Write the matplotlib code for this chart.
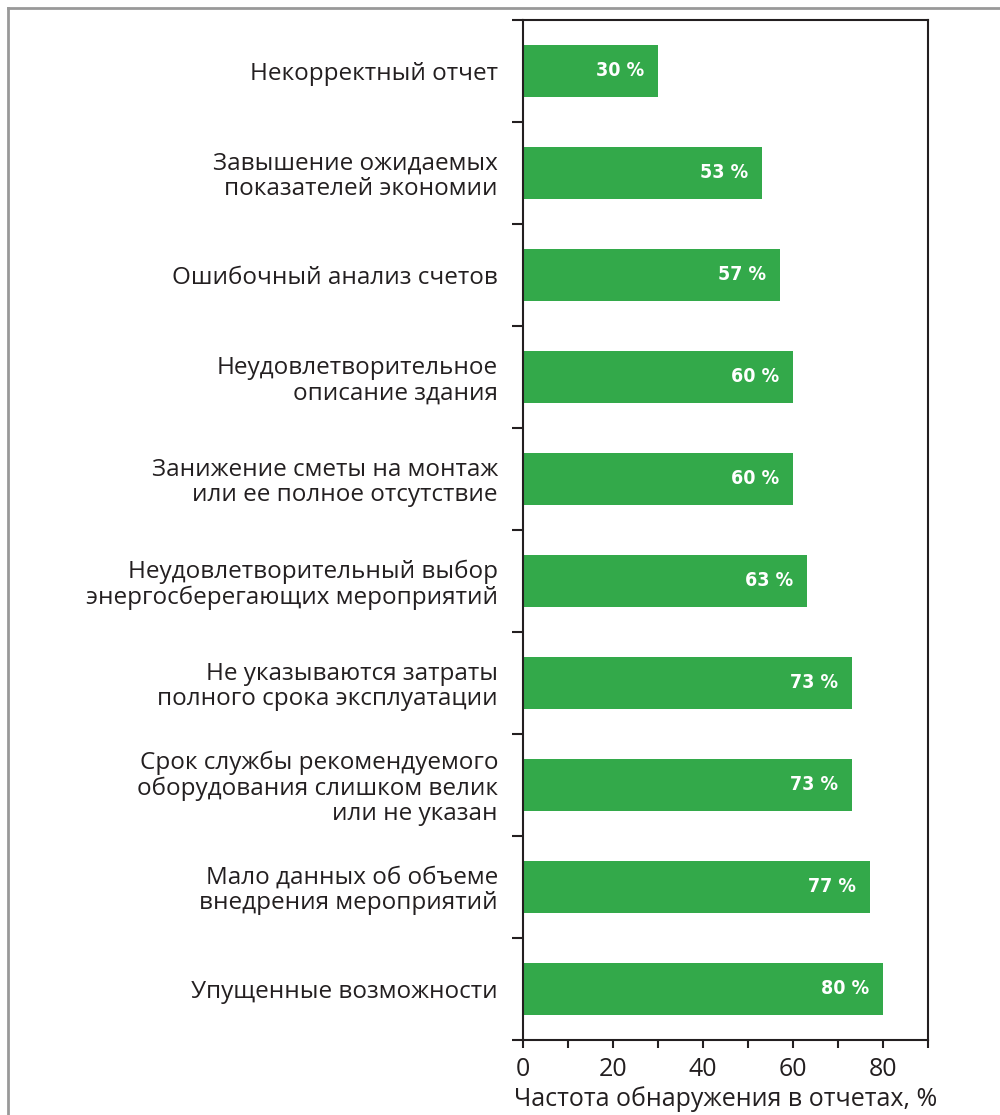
import numpy as np
import matplotlib.pyplot as plt
from matplotlib.lines import Line2D

plt.rcParams['font.family'] = ['Open Sans', 'DejaVu Sans']

categories = [
    'Некорректный отчет',
    'Завышение ожидаемых\nпоказателей экономии',
    'Ошибочный анализ счетов',
    'Неудовлетворительное\nописание здания',
    'Занижение сметы на монтаж\nили ее полное отсутствие',
    'Неудовлетворительный выбор\nэнергосберегающих мероприятий',
    'Не указываются затраты\nполного срока эксплуатации',
    'Срок службы рекомендуемого\nоборудования слишком велик\nили не указан',
    'Мало данных об объеме\nвнедрения мероприятий',
    'Упущенные возможности',
]
values = [30, 53, 57, 60, 60, 63, 73, 73, 77, 80]
xticks = [0, 20, 40, 60, 80]

green = '#33a94a'
dark = '#231f20'

fig = plt.figure(figsize=(10, 11.15), dpi=100)
ax = fig.add_axes([0.523, 0.0673, 0.405, 0.9148])

y = np.arange(len(categories))
ax.barh(y, values, height=0.51, color=green, edgecolor='none')
for yi, v in zip(y, values):
    ax.text(v - 3, yi, f'{v} %', ha='right', va='center', color='white',
            fontsize=14, fontweight='bold', family='DejaVu Sans', fontstretch='condensed')

ax.set_xlim(0, 90)
ax.set_ylim(len(categories) - 0.5, -0.5)

ax.set_xticks(xticks)
ax.set_xticks(np.arange(10, 91, 20), minor=True)
ax.tick_params(axis='x', which='both', direction='out', length=6, width=1.5,
               color=dark, labelsize=18, labelcolor=dark, pad=6)

ax.set_yticks(np.arange(-0.5, len(categories), 1.0))
ax.set_yticklabels([])
ax.set_yticks(y, categories, minor=True)
ax.tick_params(axis='y', which='major', direction='out', length=8, width=1.5, color=dark)
ax.tick_params(axis='y', which='minor', length=0, pad=18, labelsize=17.5, labelcolor=dark)
for lab in ax.get_yticklabels(minor=True):
    lab.set_horizontalalignment('right')
    lab.set_multialignment('right')
    lab.set_linespacing(1.08)

for s in ax.spines.values():
    s.set_linewidth(1.5)
    s.set_color(dark)

ax.set_xlabel('Частота обнаружения в отчетах, %', fontsize=18, color=dark, labelpad=3)

# grey frame at top and left of the image
fig.add_artist(Line2D([0.008, 1.0], [1 - 8 / 1115, 1 - 8 / 1115], color='#999999', lw=2))
fig.add_artist(Line2D([0.008, 0.008], [0, 1 - 8 / 1115], color='#999999', lw=2))

fig.savefig('out.png', dpi=100)
